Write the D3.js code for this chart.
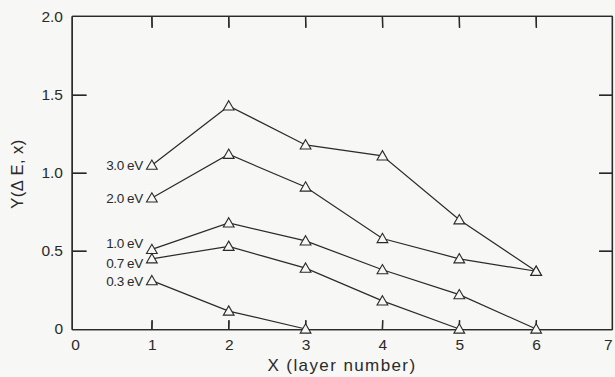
<!DOCTYPE html>
<html><head><meta charset="utf-8">
<script src="https://cdn.jsdelivr.net/npm/d3@7"></script>
<style>body{margin:0;background:#f7f7f5;} svg{display:block;}</style>
</head><body>
<svg id="c" width="615" height="377"></svg>
<script>
const layers = [1,2,3,4,5,6];
const seriesLabels = ["3.0 eV","2.0 eV","1.0 eV","0.7 eV","0.3 eV"];
const s30 = [1.05,1.43,1.18,1.11,0.70,0.37];
const s20 = [0.84,1.12,0.91,0.58,0.45,0.37];
const s10 = [0.51,0.68,0.565,0.38,0.22,0];
const s07 = [0.45,0.53,0.39,0.18,0];
const s03 = [0.31,0.115,0];
const xTicks = [0,1,2,3,4,5,6,7];
const yTicks = [0,0.5,1.0,1.5,2.0];
const yTickLabels = ["0","0.5","1.0","1.5","2.0"];
const innerY = [0.5,1.0,1.5];
const allSeries = [s30,s20,s10,s07,s03];
const labelDy = [0,0,-6,4,0];

const svg = d3.select("#c");
const x = d3.scaleLinear().domain([0,7]).range([75,613]);
const y = d3.scaleLinear().domain([0,2]).range([329,17]);
const ink = "#2a2a2a";
const font = "Liberation Sans, Arial, sans-serif";

// frame + inward ticks as one path with tiny chamfers / slants
const L = 72.2, R = 612.4, T = 16.4, B = 329.6, c = 0.4;
let fd = `M${L+c},${B}L${R-c},${B}L${R},${B-c}L${R},${T+c}L${R-c},${T}L${L+c},${T}L${L},${T+c}L${L},${B-c}Z`;
layers.forEach(d=>{
  fd += `M${x(d)},${B}L${x(d)+0.25},${B-9.3}`;
  fd += `M${x(d)},${T}L${x(d)+0.25},${T+11.3}`;
});
innerY.forEach(d=>{
  fd += `M${L},${y(d)}L${L+14.3},${y(d)+0.25}`;
  fd += `M${R},${y(d)}L${R-13.3},${y(d)+0.25}`;
});
svg.append("path").attr("d",fd).attr("fill","none").attr("stroke","#222").attr("stroke-width",1.4);

// bottom tick labels
const gb = svg.append("g").attr("transform",`translate(0,${y(0)})`)
  .call(d3.axisBottom(x).tickValues(xTicks).tickSize(0).tickPadding(10).tickFormat(d3.format("d")));
gb.select(".domain").remove();
gb.selectAll("text").attr("font-size",15.5).attr("font-family",font).attr("fill",ink)
  .filter(d=>d===7).attr("text-anchor","end").attr("dx",-1);

// left tick labels
const gl = svg.append("g").attr("transform",`translate(72,0)`)
  .call(d3.axisLeft(y).tickValues(yTicks).tickSize(0).tickPadding(9).tickFormat((d,i)=>yTickLabels[i]));
gl.select(".domain").remove();
gl.selectAll("text").attr("font-size",15.5).attr("font-family",font).attr("fill",ink);

// axis titles
svg.append("text").attr("x",342).attr("y",371).attr("text-anchor","middle")
  .attr("font-size",17).attr("font-family",font).attr("fill",ink).attr("letter-spacing",1.4)
  .text("X (layer number)");
svg.append("text").attr("transform",`translate(23,174) rotate(-90)`)
  .attr("text-anchor","middle").attr("font-size",16.5).attr("font-family",font).attr("fill",ink)
  .attr("letter-spacing",0.5).text("Y(\u0394 E, x)");

// series lines, markers, labels (frame outline also appended to first series path as a fallback)
const line = d3.line().x((d,i)=>x(layers[i])).y(d=>y(d));
const tri = d3.symbol().type(d3.symbolTriangle).size(50);
allSeries.forEach((s,k)=>{
  const dStr = line(s) + (k===0 ? fd : "");
  svg.append("path").datum(s).attr("d",dStr).attr("fill","none").attr("stroke",ink).attr("stroke-width",1.2);
  svg.append("g").selectAll("path").data(s).join("path")
    .attr("d",tri).attr("transform",(d,i)=>`translate(${x(layers[i])},${y(d)+1})`)
    .attr("fill","#f7f7f5").attr("stroke",ink).attr("stroke-width",1.1);
  svg.append("text").attr("x",x(1)-9).attr("y",y(s[0])+labelDy[k]+5)
    .attr("text-anchor","end").attr("font-size",13.5).attr("font-family",font).attr("fill",ink)
    .attr("letter-spacing",-0.4).text(seriesLabels[k]);
});
</script>
</body></html>
